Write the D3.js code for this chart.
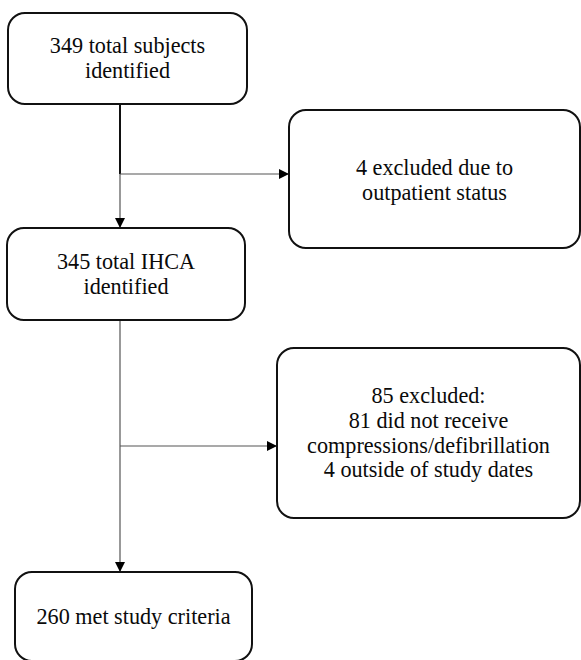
<!DOCTYPE html>
<html><head><meta charset="utf-8">
<script src="https://cdn.jsdelivr.net/npm/d3@7"></script>
<style>html,body{margin:0;padding:0;background:#fff;}svg{display:block;}
text{font-family:"Liberation Serif","DejaVu Serif","Times New Roman",Times,serif;}</style>
</head><body>
<svg id="c" width="581" height="660"></svg>
<script>
// Flow data
const mainSteps = [
  ["349 total subjects", "identified"],
  ["345 total IHCA", "identified"],
  ["260 met study criteria"]
];
const exclusions = [
  ["4 excluded due to", "outpatient status"],
  ["85 excluded:", "81 did not receive", "compressions/defibrillation", "4 outside of study dates"]
];
const counts = [349, 345, 260];
const excludedCounts = [4, 85];

// Layout (geometry only)
const mainBoxes = [
  {x0: 8, y0: 13, x1: 247, y1: 104, base: 53},
  {x0: 7, y0: 228, x1: 245, y1: 320, base: 269},
  {x0: 15, y0: 572, x1: 252, y1: 661, base: 624}
];
const exBoxes = [
  {x0: 289, y0: 110, x1: 580, y1: 248, base: 175, branchY: 174},
  {x0: 277, y0: 348, x1: 580, y1: 518, base: 403, branchY: 446}
];
const spineX = 120;
const lineH = 24.8;

const svg = d3.select("#c");
svg.append("defs").append("marker")
  .attr("id","ah").attr("viewBox","0 0 10 10").attr("refX",10).attr("refY",5)
  .attr("markerWidth",10).attr("markerHeight",10).attr("markerUnits","userSpaceOnUse")
  .attr("orient","auto")
  .append("path").attr("d","M0,0L10,5L0,10Z").attr("fill","#000");

const line = d3.line();

svg.append("path").attr("d", line([[spineX, mainBoxes[0].y1], [spineX, exBoxes[0].branchY]]))
  .attr("stroke","#111").attr("stroke-width",2).attr("fill","none");
svg.append("path").attr("d", line([[spineX, exBoxes[0].branchY], [spineX, mainBoxes[1].y0]]))
  .attr("stroke","#444").attr("stroke-width",1.1).attr("fill","none").attr("marker-end","url(#ah)");
svg.append("path").attr("d", line([[spineX, mainBoxes[1].y1], [spineX, mainBoxes[2].y0]]))
  .attr("stroke","#444").attr("stroke-width",1.1).attr("fill","none").attr("marker-end","url(#ah)");

svg.selectAll("path.branch").data(exBoxes).join("path").attr("class","branch")
  .attr("d", d => line([[spineX, d.branchY], [d.x0, d.branchY]]))
  .attr("stroke","#555").attr("stroke-width",1.1).attr("fill","none").attr("marker-end","url(#ah)");

function drawBoxes(boxes, labels, cls) {
  const g = svg.selectAll("g." + cls).data(boxes.map((b, i) => ({b, lines: labels[i]})))
    .join("g").attr("class", cls);
  g.append("rect")
    .attr("x", d => d.b.x0).attr("y", d => d.b.y0)
    .attr("width", d => d.b.x1 - d.b.x0).attr("height", d => d.b.y1 - d.b.y0)
    .attr("rx", 17).attr("ry", 17)
    .attr("fill", "#fff").attr("stroke", "#111").attr("stroke-width", 2);
  g.each(function(d) {
    const t = d3.select(this).append("text")
      .attr("text-anchor", "middle")
      .style("font-size", "22.2px").attr("fill", "#0a0a0a");
    d.lines.forEach((s, i) => {
      t.append("tspan").attr("x", (d.b.x0 + d.b.x1) / 2)
        .attr("y", d.b.base + i * lineH).text(s);
    });
  });
}
drawBoxes(mainBoxes, mainSteps, "main");
drawBoxes(exBoxes, exclusions, "ex");
</script>
</body></html>
